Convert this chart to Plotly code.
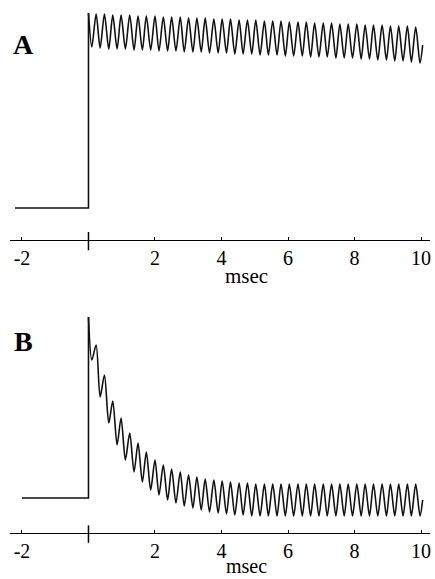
import plotly.graph_objects as go

# ---- data ----
# pre-stimulus baseline and step onset (msec, arbitrary units)
pre_t_A = [-2.21, 0.0, 0.0]
pre_v_A = [0, 0, 195]
pre_t_B = [-2.0, 0.0, 0.0]
pre_v_B = [0, 0, 181]

# times of successive extrema (trough, peak, trough, ...) after onset, msec
t_ext = [0.10, 0.23, 0.35, 0.48, 0.61, 0.73, 0.86, 0.98, 1.11, 1.24,
         1.37, 1.49, 1.62, 1.74, 1.87, 2.00, 2.12, 2.25, 2.38, 2.50,
         2.63, 2.76, 2.88, 3.01, 3.14, 3.26, 3.39, 3.51, 3.64, 3.77,
         3.90, 4.02, 4.15, 4.27, 4.40, 4.53, 4.65, 4.78, 4.91, 5.03,
         5.16, 5.29, 5.41, 5.54, 5.67, 5.79, 5.92, 6.04, 6.17, 6.30,
         6.43, 6.55, 6.68, 6.80, 6.93, 7.06, 7.18, 7.31, 7.44, 7.56,
         7.69, 7.81, 7.94, 8.07, 8.20, 8.32, 8.45, 8.57, 8.70, 8.83,
         8.96, 9.08, 9.21, 9.33, 9.46, 9.59, 9.71, 9.84, 9.97, 10.05]

# panel A extrema values
v_A = [161, 194, 160, 194, 159, 193, 159, 193, 159, 193,
       158, 192, 158, 192, 158, 192, 157, 191, 157, 191,
       157, 191, 156, 190, 156, 190, 156, 190, 155, 189,
       155, 189, 155, 189, 154, 188, 154, 188, 154, 188,
       153, 187, 153, 187, 153, 187, 152, 186, 152, 186,
       152, 186, 151, 185, 151, 185, 151, 185, 150, 184,
       150, 184, 150, 184, 149, 183, 149, 183, 148, 183,
       148, 182, 147, 182, 147, 182, 146, 181, 145, 163]

# panel B extrema values
v_B = [138, 153, 101, 123, 75, 97, 53, 80, 38, 65,
       26, 55, 16, 46, 8, 38, 3, 33, -2, 29,
       -5, 26, -8, 23, -10, 21, -12, 19, -14, 18,
       -15, 17, -16, 16, -17, 15, -17, 15, -18, 14,
       -18, 14, -18, 14, -18, 14, -18, 14, -18, 14,
       -18, 14, -18, 14, -18, 14, -18, 14, -18, 14,
       -18, 14, -18, 14, -18, 14, -18, 14, -18, 14,
       -18, 14, -18, 14, -18, 14, -18, 14, -18, -2]

tick_vals = [-2, 2, 4, 6, 8, 10]
tick_text = ["-2", "2", "4", "6", "8", "10"]
x_label = "msec"
panel_labels = ["A", "B"]

# ---- figure ----
line_style = dict(color="#111111", width=1.6)
fig = go.Figure()
fig.add_trace(go.Scatter(x=pre_t_A, y=pre_v_A, mode="lines", line=line_style,
                         xaxis="x", yaxis="y", showlegend=False))
fig.add_trace(go.Scatter(x=[0.0] + t_ext, y=[pre_v_A[-1]] + v_A, mode="lines",
                         line=dict(shape="spline", smoothing=0.8, **line_style),
                         xaxis="x", yaxis="y", showlegend=False))
fig.add_trace(go.Scatter(x=pre_t_B, y=pre_v_B, mode="lines", line=line_style,
                         xaxis="x2", yaxis="y2", showlegend=False))
fig.add_trace(go.Scatter(x=[0.0] + t_ext, y=[pre_v_B[-1]] + v_B, mode="lines",
                         line=dict(shape="spline", smoothing=0.8, **line_style),
                         xaxis="x2", yaxis="y2", showlegend=False))

serif = "Liberation Serif, Times New Roman, serif"
xax = dict(range=[-2.36, 10.27], showline=True, linecolor="black", linewidth=1.5,
           ticks="inside", ticklen=3, tickwidth=1, tickcolor="black",
           tickmode="array", tickvals=tick_vals, ticktext=tick_text,
           tickfont=dict(family=serif, size=20, color="black"),
           showgrid=False, zeroline=False, fixedrange=True)
fig.update_layout(
    width=435, height=579,
    margin=dict(l=10, r=5, t=0, b=0),
    paper_bgcolor="white", plot_bgcolor="white",
    hovermode=False,
    xaxis=dict(domain=[0, 1], anchor="y", **xax),
    yaxis=dict(domain=[0.5855, 0.981], range=[-32, 197], visible=False, fixedrange=True),
    xaxis2=dict(domain=[0, 1], anchor="y2", **xax),
    yaxis2=dict(domain=[0.0795, 0.456], range=[-35, 183], visible=False, fixedrange=True),
)

# zero tick crossing the axis
for xr, yr in [("x", "y domain"), ("x2", "y2 domain")]:
    fig.add_shape(type="line", xref=xr, yref=yr, x0=0, x1=0, y0=-0.045, y1=0.035,
                  line=dict(color="black", width=1.5))

# axis titles
fig.add_annotation(text=x_label, xref="x", yref="y domain", x=4.75, y=-0.157,
                   showarrow=False, font=dict(family=serif, size=21, color="black"),
                   yanchor="middle")
fig.add_annotation(text=x_label, xref="x2", yref="y2 domain", x=4.75, y=-0.152,
                   showarrow=False, font=dict(family=serif, size=20, color="black"),
                   yanchor="middle")

# panel letters
for lab, xp, yp in [(panel_labels[0], 0.031, 0.923), (panel_labels[1], 0.033, 0.41)]:
    fig.add_annotation(text="<b>" + lab + "</b>", xref="paper", yref="paper", x=xp, y=yp,
                       showarrow=False, font=dict(family=serif, size=28, color="black"),
                       xanchor="center", yanchor="middle")

fig.write_html("out.html", config={"displayModeBar": False, "staticPlot": True},
               post_script="document.body.style.margin='0';document.body.style.overflow='hidden';")
